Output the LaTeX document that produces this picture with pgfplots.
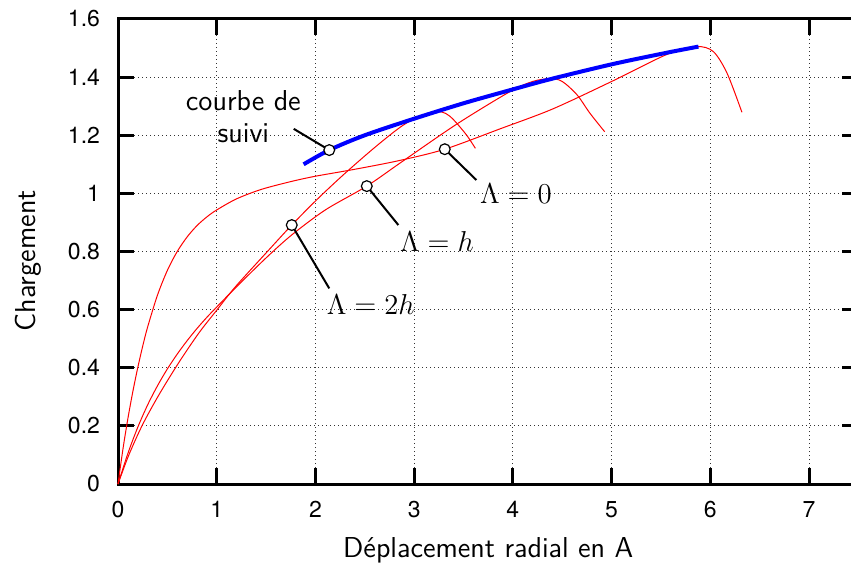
\documentclass[border=0pt]{standalone}
\usepackage{fontspec}
\usepackage{pgfplots}
\pgfplotsset{compat=1.18}
\newfontfamily\tickfont{TeX Gyre Heros}

\begin{document}
\begin{tikzpicture}
\begin{axis}[
  name=ax,
  scale only axis, width=370.2pt, height=232.5pt,
  xmin=0, xmax=7.5, ymin=0, ymax=1.6,
  xtick={0,1,2,3,4,5,6,7},
  ytick={0,0.2,0.4,0.6,0.8,1,1.2,1.4,1.6},
  axis line style={line width=1.5pt},
  tick style={line width=1.5pt, black},
  major tick length=8pt,
  tick align=inside,
  grid=major,
  major grid style={black!80, line width=0.5pt, dash pattern=on 0.5pt off 1.5pt},
  /pgf/number format/assume math mode=true,
  ticklabel style={font=\tickfont\fontsize{11.5}{13}\selectfont},
  xticklabel style={yshift=-5pt},
  yticklabel style={xshift=-5.5pt},
  xlabel={Déplacement radial en A},
  ylabel={Chargement},
  label style={font=\sffamily\Large},
  xlabel style={at={(axis description cs:0.5,-0.159)}, anchor=base},
  ylabel style={at={(axis description cs:-0.1216,0.48)}, anchor=center},
  clip=false,
]
% Lambda = 0
\addplot[red, line width=0.5pt, smooth] coordinates {
(0,0) (0.05,0.12) (0.1,0.225) (0.15,0.3175) (0.2,0.40) (0.25,0.474) (0.3,0.54)
(0.4,0.65) (0.5,0.735) (0.6,0.80) (0.7,0.85) (0.8,0.889) (0.9,0.919) (1.0,0.943)
(1.2,0.981) (1.45,1.0135) (1.75,1.0405) (2.0,1.059) (2.4,1.083) (2.85,1.113)
(3.31,1.152) (3.87,1.222) (4.4,1.29) (5.0,1.385) (5.56,1.478) (5.86,1.505)
(6.03,1.488) (6.17,1.413) (6.32,1.279)};
% Lambda = h
\addplot[red, line width=0.5pt, smooth] coordinates {
(0,0) (0.1,0.105) (0.2,0.195) (0.3,0.272) (0.4,0.338) (0.5,0.396) (0.6,0.447)
(0.7,0.493) (0.8,0.535) (0.9,0.5735) (1.0,0.609) (1.19,0.675) (1.5,0.778)
(1.76,0.857) (2.1,0.943) (2.52,1.025) (2.86,1.105) (3.43,1.238) (3.97,1.35)
(4.2,1.385) (4.38,1.395) (4.5,1.385) (4.65,1.339) (4.78,1.276) (4.93,1.212)};
% Lambda = 2h
\addplot[red, line width=0.5pt, smooth] coordinates {
(0,0) (0.11,0.1) (0.25,0.205) (0.42,0.31) (0.62,0.42) (0.82,0.52) (1.0,0.598)
(1.19,0.679) (1.5,0.795) (1.76,0.891) (2.01,0.977) (2.28,1.063) (2.59,1.155)
(2.86,1.228) (3.05,1.265) (3.23,1.281) (3.32,1.275) (3.40,1.253) (3.53,1.201)
(3.62,1.155)};
% courbe de suivi
\addplot[blue, line width=2pt, smooth] coordinates {
(1.88,1.1) (2.14,1.149) (2.5,1.2) (3.0,1.257) (3.5,1.31) (3.97,1.355)
(4.38,1.393) (5.0,1.444) (5.56,1.484) (5.88,1.505)};

% annotation leaders
\addplot[black, line width=1pt] coordinates {(2.14,1.149) (1.78,1.222)};
\addplot[black, line width=1pt] coordinates {(3.31,1.152) (3.63,1.046)};
\addplot[black, line width=1pt] coordinates {(2.52,1.025) (2.84,0.891)};
\addplot[black, line width=1pt] coordinates {(1.76,0.891) (2.14,0.673)};
\addplot[only marks, mark=*, mark size=2.7pt,
  mark options={fill=white, draw=black, line width=0.6pt}]
  coordinates {(2.14,1.149) (3.31,1.152) (2.52,1.025) (1.76,0.891)};

\node[font=\sffamily\fontsize{14.4}{16}\selectfont, align=center] at (axis cs:1.27,1.263) {courbe de\\suivi};
\node[font=\Large] at (axis cs:4.03,1.0) {$\Lambda = 0$};
\node[font=\Large] at (axis cs:3.23,0.836) {$\Lambda = h$};
\node[font=\Large] at (axis cs:2.56,0.619) {$\Lambda = 2h$};
\end{axis}
\pgfresetboundingbox
\path ([xshift=-59pt,yshift=-41.5pt]ax.south west) rectangle ([xshift=-3.7pt,yshift=9.5pt]ax.north east);
\end{tikzpicture}
\end{document}
